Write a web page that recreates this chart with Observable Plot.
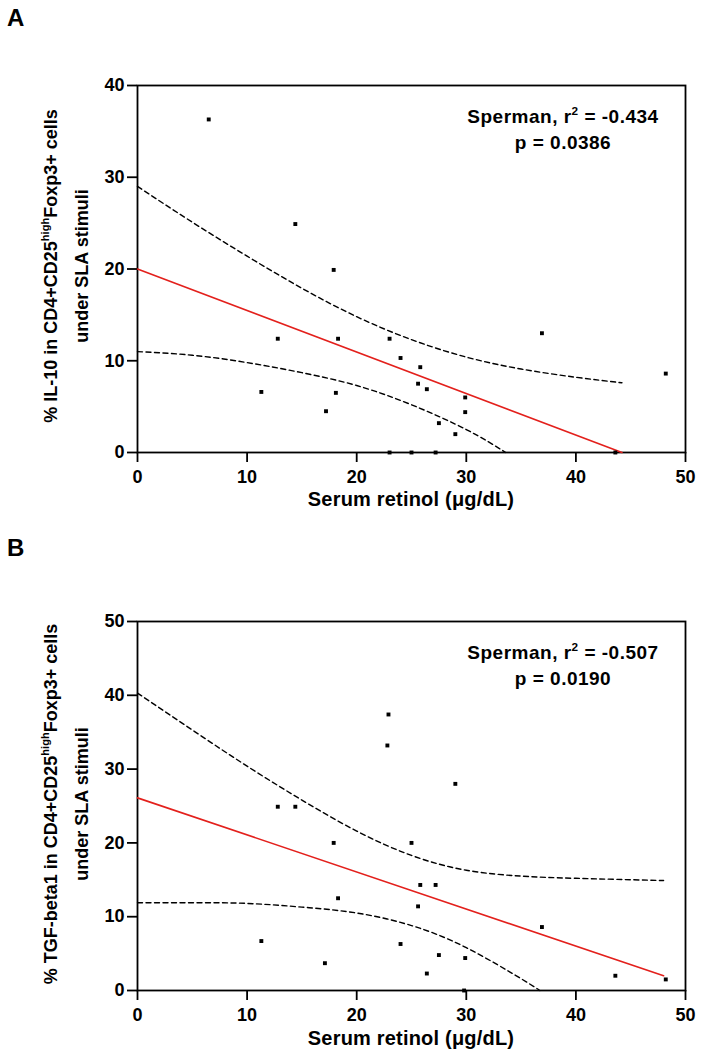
<!DOCTYPE html>
<html>
<head>
<meta charset="utf-8">
<script src="https://cdn.jsdelivr.net/npm/d3@7"></script>
<script src="https://cdn.jsdelivr.net/npm/@observablehq/plot@0.6"></script>
<style>
  html, body { margin: 0; padding: 0; background: #fff; }
  body { width: 702px; font-family: "Liberation Sans", Arial, sans-serif; font-weight: bold; color: #000; }
  .panel { position: relative; width: 702px; }
  .panel svg { display: block; }
  .ov { position: absolute; white-space: nowrap; font-weight: bold; }
  .ylab { transform: translate(-50%, -50%) rotate(-90deg); text-align: center; font-size: 18px; line-height: 31px; }
  .xlab { transform: translateX(-50%); font-size: 20px; letter-spacing: 0.2px; }
  .ann { transform: translateX(-50%); text-align: center; font-size: 19px; line-height: 26px; letter-spacing: 0.5px; }
  .letter { font-size: 24px; }
  sup { font-size: 0.62em; line-height: 0; position: relative; top: -0.1em; vertical-align: super; }
</style>
</head>
<body>
<div id="chart"></div>
<script>
// ---------- Panel A data: % IL-10 vs serum retinol ----------
const retinolA = [6.5, 14.4, 17.9, 12.8, 18.3, 23.0, 24.0, 25.8, 25.6, 26.4, 11.3, 18.1, 17.2, 29.9, 29.9, 27.5, 29.0, 36.9, 48.2, 23.0, 25.0, 27.2, 43.6];
const il10A    = [36.3, 24.9, 19.9, 12.4, 12.4, 12.4, 10.3, 9.3, 7.5, 6.9, 6.6, 6.5, 4.5, 6.0, 4.4, 3.2, 2.0, 13.0, 8.6, 0, 0, 0, 0];
const fitXA = [0, 44.2];
const fitYA = [20.0, 0];
const upperXA = [0, 5, 10, 15, 20, 25, 30, 35, 40, 44.2];
const upperYA = [29.0, 25.1, 21.4, 17.9, 14.8, 12.3, 10.4, 9.1, 8.2, 7.6];
const lowerXA = [0, 5, 10, 15, 20, 25, 30, 33.6];
const lowerYA = [11.0, 10.6, 9.8, 8.7, 7.3, 5.2, 2.5, 0];

// ---------- Panel B data: % TGF-beta1 vs serum retinol ----------
const retinolB = [22.9, 22.8, 12.8, 14.4, 17.9, 25.0, 29.0, 25.8, 27.2, 25.6, 18.3, 11.3, 17.1, 24.0, 26.4, 27.5, 29.9, 29.8, 36.9, 43.6, 48.2];
const tgfB     = [37.4, 33.2, 24.9, 24.9, 20.0, 20.0, 28.0, 14.3, 14.3, 11.4, 12.5, 6.7, 3.7, 6.3, 2.3, 4.8, 4.4, 0, 8.6, 2.0, 1.5];
const fitXB = [0, 48];
const fitYB = [26.1, 2.0];
const upperXB = [0, 5, 10, 15, 20, 25, 30, 35, 40, 48];
const upperYB = [40.3, 35.3, 30.4, 25.8, 21.6, 18.3, 16.3, 15.5, 15.2, 14.9];
const lowerXB = [0, 5, 10, 15, 20, 25, 30, 35, 36.7];
const lowerYB = [11.9, 11.9, 11.8, 11.3, 10.5, 8.8, 5.8, 1.6, 0];

// ---------- Axis ticks ----------
const xTicks = [0, 10, 20, 30, 40, 50];
const yTicksA = [0, 10, 20, 30, 40];
const yTicksB = [0, 10, 20, 30, 40, 50];

const zip = (xs, ys) => xs.map((x, i) => ({x, y: ys[i]}));

function panel({pts, fit, upper, lower, yMax, yTicks, height, mt, mb}) {
  return Plot.plot({
    width: 702,
    height,
    marginLeft: 137,
    marginRight: 17,
    marginTop: mt,
    marginBottom: mb,
    x: {domain: [0, 50]},
    y: {domain: [0, yMax]},
    style: {fontFamily: "'Liberation Sans', Arial, sans-serif", fontSize: "18px", fontWeight: "bold", color: "#000", background: "#fff", overflow: "visible"},
    marks: [
      Plot.axisX({ticks: xTicks, tickSize: 10, tickPadding: 8, strokeWidth: 1.8, label: null, tickFormat: d => d}),
      Plot.axisY({ticks: yTicks, tickSize: 10, tickPadding: 3, strokeWidth: 1.8, label: null, tickFormat: d => d}),
      Plot.frame({stroke: "#000", strokeWidth: 1.8}),
      Plot.line(upper, {x: "x", y: "y", curve: "natural", stroke: "#000", strokeWidth: 1.4, strokeDasharray: "5,3.5"}),
      Plot.line(lower, {x: "x", y: "y", curve: "natural", stroke: "#000", strokeWidth: 1.4, strokeDasharray: "5,3.5"}),
      Plot.line(fit, {x: "x", y: "y", stroke: "#e3201c", strokeWidth: 1.6}),
      Plot.dot(pts, {x: "x", y: "y", symbol: "square", r: 2.2, fill: "#000", stroke: "none"})
    ]
  });
}

const root = document.getElementById("chart");

function addPanel(cfg, letter, ylab, ann, letterTop, ylabCy, xlabTop, annTop) {
  const div = document.createElement("div");
  div.className = "panel";
  div.appendChild(panel(cfg));
  const mk = (cls, html, style) => {
    const e = document.createElement("div");
    e.className = "ov " + cls;
    e.innerHTML = html;
    Object.assign(e.style, style);
    div.appendChild(e);
  };
  mk("letter", letter, {left: "7px", top: letterTop + "px"});
  mk("ylab", ylab, {left: "67px", top: ylabCy + "px"});
  mk("xlab", "Serum retinol (&mu;g/dL)", {left: "411px", top: xlabTop + "px"});
  mk("ann", ann, {left: "563px", top: annTop + "px"});
  root.appendChild(div);
}

addPanel(
  {pts: zip(retinolA, il10A), fit: zip(fitXA, fitYA), upper: zip(upperXA, upperYA), lower: zip(lowerXA, lowerYA),
   yMax: 40, yTicks: yTicksA, height: 520, mt: 85, mb: 68},
  "A",
  "% IL-10 in CD4+CD25<sup>high</sup>Foxp3+ cells<br>under SLA stimuli",
  "Sperman, r<sup>2</sup> = -0.434<br>p = 0.0386",
  4, 266, 488, 104
);

addPanel(
  {pts: zip(retinolB, tgfB), fit: zip(fitXB, fitYB), upper: zip(upperXB, upperYB), lower: zip(lowerXB, lowerYB),
   yMax: 50, yTicks: yTicksB, height: 544, mt: 101, mb: 74},
  "B",
  "% TGF-beta1 in CD4+CD25<sup>high</sup>Foxp3+ cells<br>under SLA stimuli",
  "Sperman, r<sup>2</sup> = -0.507<br>p = 0.0190",
  14, 284, 507, 120
);
</script>
</body>
</html>
